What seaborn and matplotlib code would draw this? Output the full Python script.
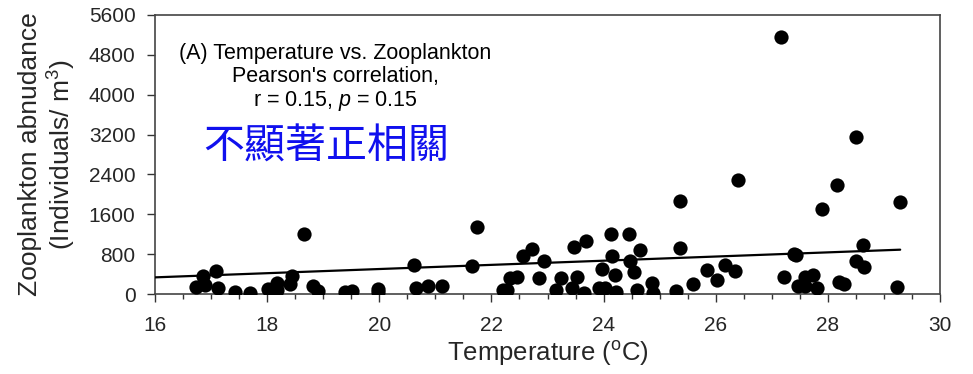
import numpy as np
import pandas as pd
import matplotlib
matplotlib.use("Agg")
import matplotlib.pyplot as plt
import seaborn as sns
from matplotlib.ticker import MultipleLocator

# ---- data ----
temperature = [16.73, 16.86, 16.89, 17.08, 17.12, 17.43, 17.69, 18.01, 18.17, 18.17,
               18.40, 18.44, 18.66, 18.82, 18.91, 19.38, 19.51, 19.97, 19.97, 20.62,
               20.65, 20.87, 21.11, 21.65, 21.74, 22.21, 22.27, 22.33, 22.45, 22.57,
               22.72, 22.85, 22.93, 23.16, 23.24, 23.43, 23.47, 23.53, 23.65, 23.69,
               23.92, 23.97, 24.03, 24.13, 24.15, 24.20, 24.23, 24.45, 24.47, 24.54,
               24.65, 24.59, 24.87, 24.89, 25.29, 25.37, 25.37, 25.60, 25.84, 26.03,
               26.17, 26.34, 26.40, 27.16, 27.21, 27.40, 27.44, 27.47, 27.59, 27.59,
               27.73, 27.80, 27.89, 28.17, 28.20, 28.29, 28.50, 28.51, 28.63, 28.65,
               29.24, 29.29]
abundance = [133, 354, 187, 468, 120, 33, 20, 100, 221, 86,
             200, 354, 1206, 153, 52, 32, 52, 100, 32, 589,
             120, 153, 153, 555, 1339, 86, 86, 321, 334, 770,
             904, 321, 655, 86, 321, 120, 937, 341, 20, 1057,
             120, 508, 120, 1206, 770, 388, 32, 1206, 669, 434,
             890, 86, 221, 20, 52, 1875, 924, 207, 475, 274,
             575, 455, 2283, 5157, 334, 810, 776, 167, 334, 167,
             374, 120, 1708, 2196, 234, 200, 3147, 655, 990, 535,
             133, 1849]

# regression line
fit_intercept_at_16 = 334.0
fit_slope = 41.8

x_ticks = [16, 18, 20, 22, 24, 26, 28, 30]
y_ticks = [0, 800, 1600, 2400, 3200, 4000, 4800, 5600]

title_lines = "(A) Temperature vs. Zooplankton\nPearson's correlation,\nr = 0.15, $\\it{p}$ = 0.15"
chinese_note = "不顯著正相關"

df = pd.DataFrame({"Temperature": temperature, "Abundance": abundance})

sns.set_theme(style="ticks")
plt.rcParams["font.family"] = ["Liberation Sans", "DejaVu Sans"]
plt.rcParams["mathtext.fontset"] = "custom"
plt.rcParams["mathtext.it"] = "Liberation Sans:italic"
plt.rcParams["mathtext.rm"] = "Liberation Sans"

fig = plt.figure(figsize=(9.73, 3.74), dpi=100)
ax = fig.add_axes([155 / 973, 1 - 294 / 374, 785 / 973, 279 / 374])

sns.scatterplot(data=df, x="Temperature", y="Abundance", ax=ax, color="black",
                s=105, edgecolor="black", linewidth=0, zorder=3, legend=False)

fit_x = np.array([16.0, max(temperature)])
fit_df = pd.DataFrame({"x": fit_x, "y": fit_intercept_at_16 + fit_slope * (fit_x - 16.0)})
sns.lineplot(data=fit_df, x="x", y="y", ax=ax, color="black", linewidth=1.6, zorder=4)

ax.set_xlim(16, 30)
ax.set_ylim(0, 5600)
ax.set_xticks(x_ticks)
ax.set_yticks(y_ticks)
ax.xaxis.set_minor_locator(MultipleLocator(0.5))
ax.tick_params(axis="both", which="major", labelsize=15, length=6, width=1, direction="out",
               color="#333333")
ax.tick_params(axis="x", which="major", pad=10)
ax.tick_params(axis="y", which="major", pad=8)
ax.tick_params(axis="x", which="minor", length=3.5, width=1, direction="out", color="#333333")
for sp in ax.spines.values():
    sp.set_color("#444444")
    sp.set_linewidth(1.2)

ax.set_xlabel("Temperature ($\\mathregular{^{o}}$C)", fontsize=18.5, labelpad=3)
ax.set_ylabel("Zooplankton abnudance\n(Individuals/ m$\\mathregular{^{3}}$)", fontsize=19,
              labelpad=8, linespacing=1.15)

fig.text(335 / 973, 1 - 78 / 374, title_lines, ha="center", va="center", fontsize=15.5,
         linespacing=1.1, color="black")
fig.text(326 / 973, 1 - 147 / 374, chinese_note, ha="center", va="center",
         fontsize=29.5, color="#1010ee", family=["Noto Sans CJK TC", "DejaVu Sans"])

fig.savefig("out.png", dpi=100)
